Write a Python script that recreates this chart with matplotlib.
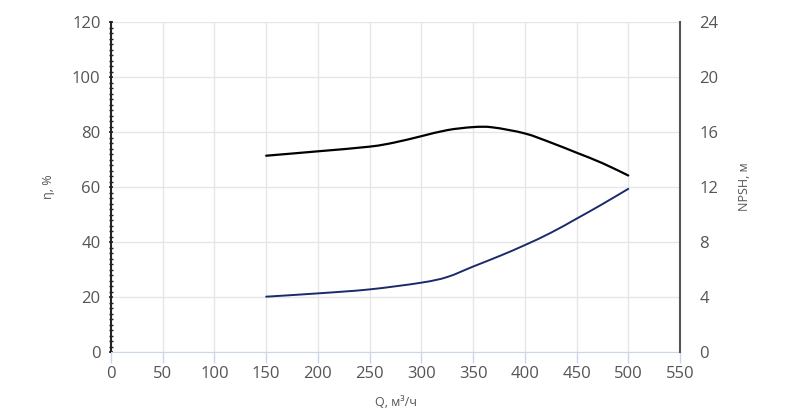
import numpy as np
import matplotlib.pyplot as plt
from matplotlib.path import Path
from matplotlib.patches import PathPatch
from matplotlib.ticker import MultipleLocator

plt.rcParams['font.family'] = ['Open Sans', 'DejaVu Sans']

# КПД, %
q_eff = [150, 200, 250, 274, 300, 325, 350, 369, 400, 425, 450, 475, 500]
eff = [71.4, 73.0, 74.7, 76.2, 78.5, 80.7, 81.8, 81.7, 79.5, 76.2, 72.5, 68.7, 64.2]

# NPSH, м
q_npsh = [150, 200, 250, 300, 325, 350, 376, 400, 425, 450, 475, 500]
npsh = [4.03, 4.27, 4.56, 5.05, 5.46, 6.22, 7.0, 7.78, 8.67, 9.7, 10.76, 11.87]


def spline_path(xs, ys):
    # сглаженная линия через точки (кубические кривые Безье, как spline в highcharts)
    p = np.column_stack([xs, ys]).astype(float)
    n = len(p)
    verts = [p[0]]
    codes = [Path.MOVETO]
    for i in range(n - 1):
        p0 = p[i - 1] if i > 0 else p[i]
        p3 = p[i + 2] if i + 2 < n else p[i + 1]
        c1 = p[i] + (p[i + 1] - p0) / 6
        c2 = p[i + 1] - (p3 - p[i]) / 6
        verts += [c1, c2, p[i + 1]]
        codes += [Path.CURVE4] * 3
    return Path(verts, codes)


fig = plt.figure(figsize=(8, 4.08), dpi=100)
ax = fig.add_axes([0.13875, 0.137, 0.71125, 0.809])
ax2 = ax.twinx()

grid_c = '#e6e6e6'
ax.set_xlim(0, 550)
ax.set_ylim(0, 120)
ax2.set_ylim(0, 24)
ax.set_xticks(np.arange(0, 551, 50))
ax.set_yticks(np.arange(0, 121, 20))
ax2.set_yticks(np.arange(0, 25, 4))
ax.yaxis.set_minor_locator(MultipleLocator(2))
ax.grid(True, color=grid_c, lw=1)
ax.set_axisbelow(True)

# кривые
ax.add_patch(PathPatch(spline_path(q_eff, eff), fill=False, edgecolor='black',
                       lw=1.6, zorder=3, capstyle='round'))
ax2.add_patch(PathPatch(spline_path(q_npsh, npsh), fill=False, edgecolor='#1a2a6c',
                        lw=1.4, zorder=3, capstyle='round'))

for a in (ax, ax2):
    a.spines['top'].set_visible(False)
ax.spines['left'].set_color('#222222')
ax.spines['left'].set_linewidth(1.5)
ax.spines['right'].set_visible(False)
ax.spines['bottom'].set_color('#ccd6eb')
ax2.spines['left'].set_visible(False)
ax2.spines['bottom'].set_visible(False)
ax2.spines['right'].set_color('#555555')
ax2.spines['right'].set_linewidth(1.5)

lab_c = '#555555'
ax.tick_params(axis='x', colors='#ccd6eb', length=8, width=1, labelcolor=lab_c, labelsize=12, pad=2)
ax.tick_params(axis='y', which='major', length=3, width=1.2, color='#222222', direction='inout', labelcolor=lab_c, labelsize=12, pad=6)
ax.tick_params(axis='y', which='minor', length=2.5, width=1.0, color='#222222', direction='inout')
ax2.tick_params(axis='y', length=0, labelcolor=lab_c, labelsize=12, pad=14)

ax.set_xlabel('Q, м³/ч', fontsize=9, color=lab_c, labelpad=10)
ax.set_ylabel('η, %', fontsize=9, color=lab_c, labelpad=12)
ax2.set_ylabel('NPSH, м', fontsize=9, color=lab_c, labelpad=14)

fig.savefig('out.png', dpi=100)
